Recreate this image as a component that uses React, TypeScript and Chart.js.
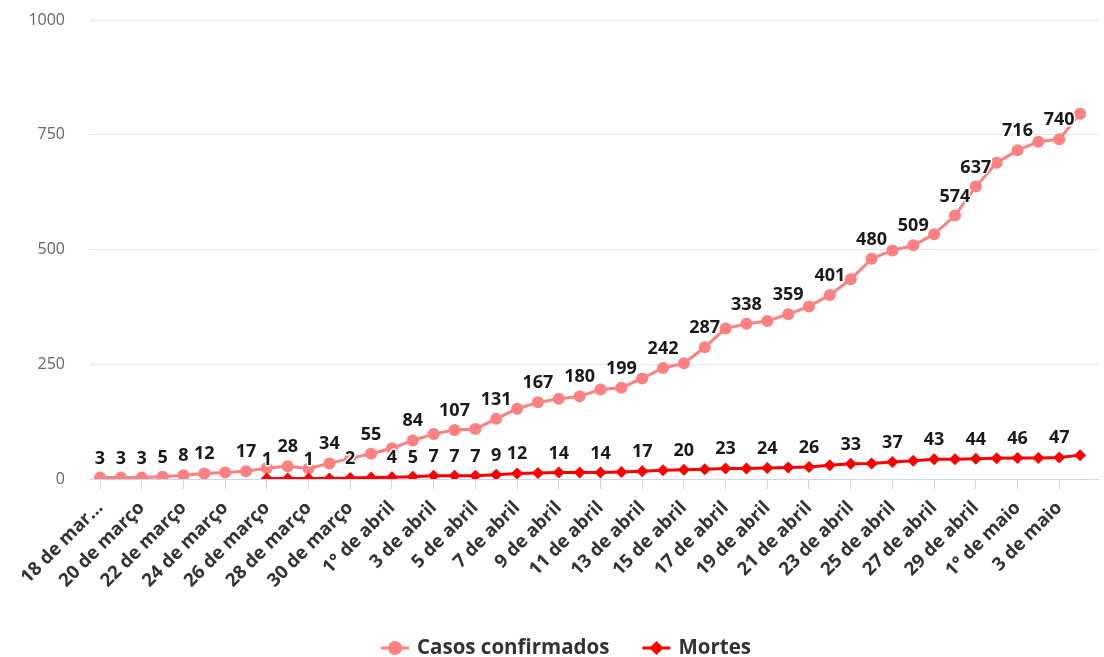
import React, { useEffect, useRef } from "react";
import { Chart, registerables } from "chart.js";

Chart.register(...registerables);

// Dates (one point per day)
const dates = [
  "18 de março", "19 de março", "20 de março", "21 de março", "22 de março", "23 de março",
  "24 de março", "25 de março", "26 de março", "27 de março", "28 de março", "29 de março",
  "30 de março", "31 de março", "1° de abril", "2 de abril", "3 de abril", "4 de abril",
  "5 de abril", "6 de abril", "7 de abril", "8 de abril", "9 de abril", "10 de abril",
  "11 de abril", "12 de abril", "13 de abril", "14 de abril", "15 de abril", "16 de abril",
  "17 de abril", "18 de abril", "19 de abril", "20 de abril", "21 de abril", "22 de abril",
  "23 de abril", "24 de abril", "25 de abril", "26 de abril", "27 de abril", "28 de abril",
  "29 de abril", "30 de abril", "1° de maio", "2 de maio", "3 de maio", "4 de maio",
];

// Tick labels shown on the x axis (every second day); first one is truncated in the source
const tickLabels = [
  "18 de mar...", "20 de março", "22 de março", "24 de março", "26 de março", "28 de março",
  "30 de março", "1° de abril", "3 de abril", "5 de abril", "7 de abril", "9 de abril",
  "11 de abril", "13 de abril", "15 de abril", "17 de abril", "19 de abril", "21 de abril",
  "23 de abril", "25 de abril", "27 de abril", "29 de abril", "1° de maio", "3 de maio",
];

const casosConfirmados = [
  3, 3, 3, 5, 8, 12, 14, 17, 24, 28, 23, 34,
  45, 55, 67, 84, 98, 107, 109, 131, 153, 167, 175, 180,
  195, 199, 219, 242, 252, 287, 328, 338, 344, 359, 376, 401,
  435, 480, 498, 509, 533, 574, 637, 689, 716, 735, 740, 796,
];

const mortes = [
  null, null, null, null, null, null, null, null, 1, 1, 1, 1,
  2, 3, 4, 5, 7, 7, 7, 9, 12, 13, 14, 14,
  14, 15, 17, 19, 20, 21, 23, 23, 24, 25, 26, 30,
  33, 34, 37, 40, 43, 43, 44, 45, 46, 46, 47, 52,
];

const yTicks = [0, 250, 500, 750, 1000];

const seriesNames = ["Casos confirmados", "Mortes"];
const seriesColors = ["#ff8080", "#ff0000"];

const FONT = '"Open Sans", "Noto Sans", sans-serif';

const pointLabelsPlugin = {
  id: "pointLabels",
  afterDatasetsDraw(chart: any) {
    const ctx = chart.ctx;
    ctx.save();
    ctx.font = `bold 18px ${FONT}`;
    ctx.textAlign = "center";
    ctx.textBaseline = "alphabetic";
    ctx.lineJoin = "round";
    const boxes: { l: number; r: number; t: number; b: number }[] = [];
    [0, 1].forEach((di) => {
      const meta = chart.getDatasetMeta(di);
      const ds = chart.data.datasets[di];
      meta.data.forEach((pt: any, i: number) => {
        const d = ds.data[i];
        if (!d || d.y == null || pt.skip) return;
        const text = String(d.y);
        const w = ctx.measureText(text).width + 4;
        const base = pt.y - 14;
        const box = { l: pt.x - w / 2, r: pt.x + w / 2, t: base - 27, b: base };
        if (boxes.some((b) => b.l < box.r && box.l < b.r && b.t < box.b && box.t < b.b)) return;
        boxes.push(box);
        ctx.strokeStyle = "#ffffff";
        ctx.lineWidth = 3;
        ctx.strokeText(text, pt.x, base);
        ctx.fillStyle = "#1a1a1a";
        ctx.fillText(text, pt.x, base);
      });
    });
    ctx.restore();
  },
};

const legendPlugin = {
  id: "customLegend",
  afterDraw(chart: any) {
    const ctx = chart.ctx;
    ctx.save();
    ctx.font = `bold 20.5px ${FONT}`;
    const symW = 28;
    const gap = 8;
    const itemGap = 33;
    const widths = seriesNames.map((n) => ctx.measureText(n).width);
    const total = widths.reduce((a, w) => a + symW + gap + w, 0) + itemGap * (seriesNames.length - 1);
    let x = 566 - total / 2;
    const y = 648;
    seriesNames.forEach((name, i) => {
      ctx.strokeStyle = seriesColors[i];
      ctx.fillStyle = seriesColors[i];
      ctx.lineWidth = 3;
      ctx.beginPath();
      ctx.moveTo(x, y);
      ctx.lineTo(x + symW, y);
      ctx.stroke();
      const cx = x + symW / 2;
      ctx.beginPath();
      if (i === 0) {
        ctx.arc(cx, y, 7, 0, Math.PI * 2);
      } else {
        ctx.moveTo(cx, y - 7);
        ctx.lineTo(cx + 7, y);
        ctx.lineTo(cx, y + 7);
        ctx.lineTo(cx - 7, y);
        ctx.closePath();
      }
      ctx.fill();
      ctx.fillStyle = "#333333";
      ctx.textBaseline = "middle";
      ctx.textAlign = "left";
      ctx.fillText(name, x + symW + gap, y);
      x += symW + gap + widths[i] + itemGap;
    });
    ctx.restore();
  },
};

export default function App() {
  const canvasRef = useRef<HTMLCanvasElement | null>(null);

  useEffect(() => {
    document.body.style.margin = "0";
    const canvas = canvasRef.current;
    if (!canvas) return;
    const tickIndex = tickLabels.map((_, k) => dates.indexOf(dates[k * 2]));
    const chart = new Chart(canvas, {
      type: "line",
      data: {
        datasets: [
          {
            label: seriesNames[0],
            data: casosConfirmados.map((v, i) => ({ x: i, y: v })),
            borderColor: seriesColors[0],
            backgroundColor: seriesColors[0],
            borderWidth: 3,
            pointRadius: 6,
            pointHoverRadius: 6,
            pointBorderWidth: 0,
            pointBackgroundColor: seriesColors[0],
            tension: 0,
            order: 2,
          },
          {
            label: seriesNames[1],
            data: mortes.map((v, i) => ({ x: i, y: v })),
            borderColor: seriesColors[1],
            backgroundColor: seriesColors[1],
            borderWidth: 3,
            pointStyle: "rectRot",
            pointRadius: 6,
            pointHoverRadius: 6,
            pointBorderWidth: 0,
            pointBackgroundColor: seriesColors[1],
            tension: 0,
            spanGaps: false,
            order: 1,
          },
        ],
      },
      options: {
        animation: false,
        responsive: true,
        maintainAspectRatio: false,
        layout: { padding: { top: 20, right: 0, bottom: 0, left: 0 } },
        plugins: {
          legend: { display: false },
          tooltip: { enabled: false },
        },
        scales: {
          x: {
            type: "linear",
            min: -0.48,
            max: 47.86,
            afterBuildTicks: (scale: any) => {
              scale.ticks = tickIndex.map((v) => ({ value: v }));
            },
            afterFit: (scale: any) => {
              scale.height = 178;
              scale.paddingLeft = 0;
              scale.paddingRight = 0;
            },
            grid: {
              drawOnChartArea: false,
              drawTicks: true,
              tickLength: 10,
              color: "#ccd6eb",
              lineWidth: 1,
            },
            border: { display: true, color: "#ccd6eb", width: 1 },
            ticks: {
              autoSkip: false,
              maxRotation: 45,
              minRotation: 45,
              padding: 8,
              color: "#333333",
              font: { family: FONT, size: 18.5, weight: "bold" },
              callback: (value: any) => {
                const k = tickIndex.indexOf(Number(value));
                return k >= 0 ? tickLabels[k] : "";
              },
            },
          },
          y: {
            min: 0,
            max: 1000,
            afterBuildTicks: (scale: any) => {
              scale.ticks = yTicks.map((v) => ({ value: v }));
            },
            afterFit: (scale: any) => {
              scale.width = 90;
              scale.paddingTop = 0;
              scale.paddingBottom = 0;
            },
            grid: { color: "#e6e6e6", lineWidth: 1, drawTicks: false },
            border: { display: false },
            ticks: {
              padding: 25,
              color: "#666666",
              font: { family: FONT, size: 16 },
              callback: (value: any) => String(value),
            },
          },
        },
      },
      plugins: [pointLabelsPlugin, legendPlugin],
    });
    return () => chart.destroy();
  }, []);

  return (
    <div style={{ position: "absolute", left: 0, top: 0, width: 1104, height: 657 }}>
      <canvas ref={canvasRef} />
    </div>
  );
}
